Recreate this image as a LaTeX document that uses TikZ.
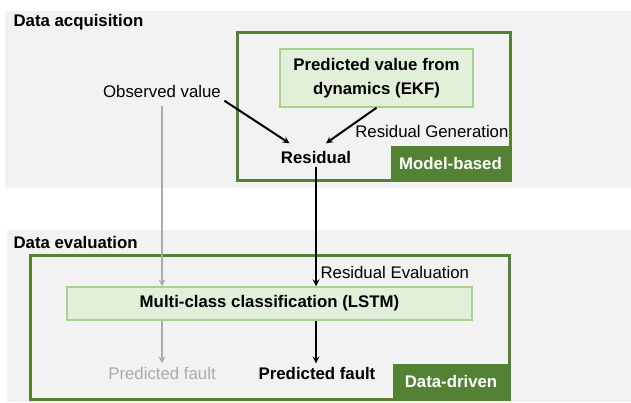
\documentclass[tikz,border=0pt]{standalone}
\usepackage{fontspec}
\setmainfont{Liberation Sans}
\usetikzlibrary{positioning}
\definecolor{darkgreen}{HTML}{548235}
\definecolor{palegreen}{HTML}{E2F0D9}
\definecolor{midgreen}{HTML}{A9D18E}
\definecolor{panelgray}{HTML}{F2F2F2}
\definecolor{linegray}{HTML}{ABABAB}
\begin{document}
\begin{tikzpicture}[x=1pt,y=-1pt,
    every node/.style={font=\fontsize{16.8}{19}\selectfont},
    group/.style={draw=darkgreen,line width=3pt},
    method/.style={draw=midgreen,fill=palegreen,line width=1.5pt,align=center,
      font=\fontsize{16.8}{24}\selectfont\bfseries},
    tag/.style={fill=darkgreen,text=white,inner sep=0pt,
      font=\fontsize{16.8}{19}\selectfont\bfseries},
    flow/.style={->,>=stealth,line width=2pt},
  ]
    \useasboundingbox (0,0) rectangle (631,403);
    \fill [panelgray] (5,11) rectangle (631,188);
    \fill [panelgray] (7,230) rectangle (631,402);
    \draw [group] (237,33) rectangle (510,181);
    \draw [group] (30,255) rectangle (509,399);
    \node [anchor=west,font=\fontsize{16.8}{19}\selectfont\bfseries] (acqtitle) at (10,22) {Data acquisition};
    \node [anchor=west,font=\fontsize{16.8}{19}\selectfont\bfseries] (evaltitle) at (10,242) {Data evaluation};
    \node [method,minimum width=193,minimum height=58] (ekf) at (376.5,78) {Predicted value from\\dynamics (EKF)};
    \node (observed) at (162,91) {Observed value};
    \node [font=\fontsize{16.8}{19}\selectfont\bfseries] (residual) at (316,157) {Residual};
    \node [anchor=east] (resgen) at (512,131) {Residual Generation};
    \node [tag,minimum width=119,minimum height=35] (modeltag) at (450.5,163.5) {Model-based};
    \node [method,minimum width=405,minimum height=33] (lstm) at (269.5,303.5) {Multi-class classification (LSTM)};
    \node [anchor=west] (reseval) at (317,272) {Residual Evaluation};
    \node [text=linegray] (faultgray) at (162,373) {Predicted fault};
    \node [font=\fontsize{16.8}{19}\selectfont\bfseries] (faultblack) at (317,373) {Predicted fault};
    \node [tag,minimum width=116,minimum height=35] (datatag) at (451,381.5) {Data-driven};
    % connectors
    \draw [flow] (observed.south east) -- ([shift={(12pt,4pt)}]residual.north west);
    \draw [flow] (ekf.south) -- ([shift={(10pt,4pt)}]residual.north);
    \draw [flow] (residual.south) -- (residual.south |- lstm.north);
    \draw [flow,linegray,shorten <=5pt] (observed.south) -- (observed.south |- lstm.north);
    \draw [flow,linegray] (faultgray.north |- lstm.south) -- (faultgray.north);
    \draw [flow] (residual.south |- lstm.south) -- (residual.south |- faultblack.north);
\end{tikzpicture}
\end{document}
